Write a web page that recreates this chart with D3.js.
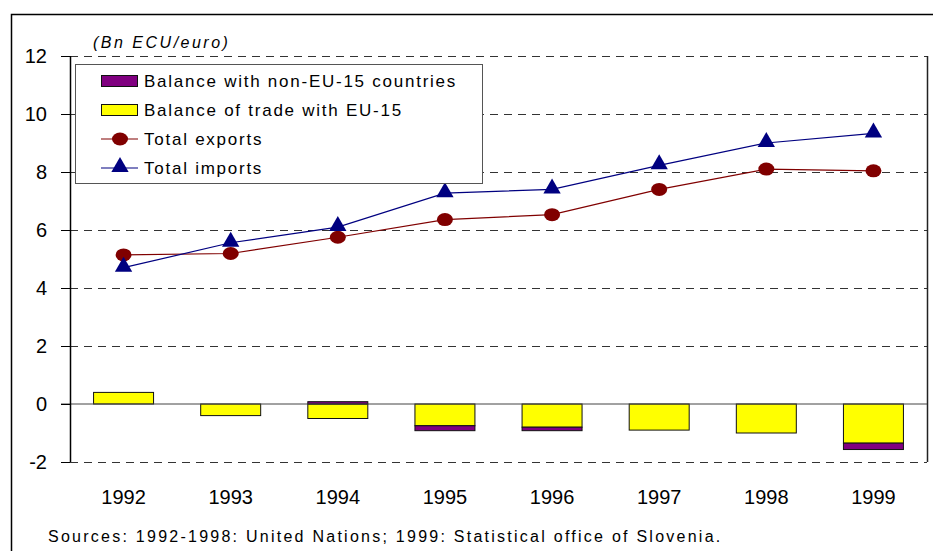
<!DOCTYPE html>
<html lang="en">
<head>
<meta charset="utf-8">
<title>Slovenia trade</title>
<script src="https://d3js.org/d3.v7.min.js"></script>
<style>
  body { margin: 0; background: #fff; font-family: "Liberation Sans", Arial, sans-serif; }
  .grid line { stroke: #333; stroke-dasharray: 8 6; }
  .ytick text { font-size: 20px; }
</style>
</head>
<body>
<div id="viz"></div>
<script>
var years = ["1992", "1993", "1994", "1995", "1996", "1997", "1998", "1999"];
var balanceEU = [0.4, -0.4, -0.5, -0.75, -0.8, -0.9, -1.0, -1.35];
var balanceNonEU = [0, 0, 0.08, -0.17, -0.12, 0, 0, -0.22];
var exportsTotal = [5.14, 5.19, 5.75, 6.36, 6.53, 7.4, 8.1, 8.04];
var importsTotal = [4.7, 5.56, 6.1, 7.27, 7.4, 8.23, 9.0, 9.33];
var yTicks = [-2, 0, 2, 4, 6, 8, 10, 12];

var W = 933, H = 551;
var pLeft = 70, pRight = 927, pTop = 56, pBottom = 462;

var svg = d3.select("#viz").append("svg").attr("width", W).attr("height", H);

// outer frame
svg.append("rect").attr("x", 11.5).attr("y", 14.5).attr("width", 940).attr("height", 560)
  .attr("fill", "none").attr("stroke", "#000").attr("stroke-width", 1.5);

var x = d3.scaleBand().domain(years).range([pLeft, pRight]).paddingInner(0.44).paddingOuter(0.22);
var xc = d3.scaleBand().domain(years).range([pLeft, pRight]);
var y = d3.scaleLinear().domain([-2, 12]).range([pBottom, pTop]);

// dashed grid
var grid = svg.append("g").attr("class", "grid");
grid.selectAll("line").data(yTicks.filter(function(d) { return d !== 0; }))
  .enter().append("line")
  .attr("x1", pLeft).attr("x2", pRight)
  .attr("y1", function(d) { return Math.round(y(d)) + 0.5; })
  .attr("y2", function(d) { return Math.round(y(d)) + 0.5; });

// right border
svg.append("line").attr("x1", pRight + 0.5).attr("x2", pRight + 0.5)
  .attr("y1", pTop).attr("y2", pBottom).attr("stroke", "#222").attr("stroke-width", 1.5);

// bars: EU part first from 0, non-EU stacked on the same sign side
var bars = svg.append("g");
years.forEach(function(yr, i) {
  var eu = balanceEU[i], ne = balanceNonEU[i];
  var posBase = 0, negBase = 0;
  function seg(v, fill) {
    if (v === 0) return;
    var y0, y1;
    if (v > 0) { y0 = posBase; y1 = posBase + v; posBase = y1; }
    else { y0 = negBase; y1 = negBase + v; negBase = y1; }
    bars.append("rect")
      .attr("x", x(yr)).attr("width", x.bandwidth())
      .attr("y", y(Math.max(y0, y1))).attr("height", Math.abs(y(y0) - y(y1)))
      .attr("fill", fill).attr("stroke", "#111").attr("stroke-width", 1);
  }
  seg(eu, "#ffff00");
  seg(ne, "#800080");
});

// zero line
svg.append("line").attr("x1", pLeft - 9).attr("x2", pRight)
  .attr("y1", y(0)).attr("y2", y(0)).attr("stroke", "#444").attr("stroke-width", 1);

// lines
var line = d3.line()
  .x(function(d, i) { return xc(years[i]) + xc.bandwidth() / 2; })
  .y(function(d) { return y(d); });

svg.append("path").datum(exportsTotal).attr("d", line)
  .attr("fill", "none").attr("stroke", "#800000").attr("stroke-width", 1.2);
svg.append("path").datum(importsTotal).attr("d", line)
  .attr("fill", "none").attr("stroke", "#000080").attr("stroke-width", 1.2);

svg.append("g").selectAll("ellipse").data(exportsTotal).enter().append("ellipse")
  .attr("cx", function(d, i) { return xc(years[i]) + xc.bandwidth() / 2; })
  .attr("cy", function(d) { return y(d); })
  .attr("rx", 8).attr("ry", 6.5).attr("fill", "#800000");

var tri = d3.symbol().type(d3.symbolTriangle).size(130);
svg.append("g").selectAll("path").data(importsTotal).enter().append("path")
  .attr("d", tri)
  .attr("transform", function(d, i) {
    return "translate(" + (xc(years[i]) + xc.bandwidth() / 2) + "," + (y(d) - 1) + ")";
  })
  .attr("fill", "#000080");

// y axis
svg.append("line").attr("x1", pLeft + 0.5).attr("x2", pLeft + 0.5)
  .attr("y1", pTop).attr("y2", pBottom).attr("stroke", "#000").attr("stroke-width", 1.5);
var yt = svg.append("g").attr("class", "ytick");
yt.selectAll("line").data(yTicks).enter().append("line")
  .attr("x1", pLeft - 9).attr("x2", pLeft)
  .attr("y1", function(d) { return Math.round(y(d)) + 0.5; })
  .attr("y2", function(d) { return Math.round(y(d)) + 0.5; })
  .attr("stroke", "#000");
yt.selectAll("text").data(yTicks).enter().append("text")
  .attr("x", 47).attr("y", function(d) { return y(d) + 7; })
  .attr("text-anchor", "end").text(function(d) { return d; });

// x labels
svg.append("g").selectAll("text").data(years).enter().append("text")
  .attr("x", function(d) { return xc(d) + xc.bandwidth() / 2; })
  .attr("y", 504).attr("text-anchor", "middle")
  .attr("font-size", 20).text(function(d) { return d; });

// unit label
svg.append("text").attr("x", 93).attr("y", 48).attr("font-size", 16)
  .attr("font-style", "italic").attr("letter-spacing", 2.5).text("(Bn ECU/euro)");

// legend
var lg = svg.append("g");
lg.append("rect").attr("x", 75.5).attr("y", 64.5).attr("width", 407).attr("height", 119)
  .attr("fill", "#fff").attr("stroke", "#555").attr("stroke-width", 1);
var legendItems = [
  { label: "Balance with non-EU-15 countries", type: "box", color: "#800080" },
  { label: "Balance of trade with EU-15", type: "box", color: "#ffff00" },
  { label: "Total exports", type: "circle", color: "#800000" },
  { label: "Total imports", type: "tri", color: "#000080" }
];
legendItems.forEach(function(it, i) {
  var cy = 81 + i * 29;
  if (it.type === "box") {
    lg.append("rect").attr("x", 101.5).attr("y", cy - 5.5).attr("width", 36).attr("height", 11)
      .attr("fill", it.color).attr("stroke", "#111");
  } else {
    lg.append("line").attr("x1", 101).attr("x2", 138).attr("y1", cy).attr("y2", cy)
      .attr("stroke", it.color).attr("stroke-width", 1.2);
    if (it.type === "circle") {
      lg.append("ellipse").attr("cx", 120).attr("cy", cy).attr("rx", 8).attr("ry", 6.5).attr("fill", it.color);
    } else {
      lg.append("path").attr("d", tri).attr("transform", "translate(120," + (cy - 1) + ")").attr("fill", it.color);
    }
  }
  lg.append("text").attr("x", 144).attr("y", cy + 6).attr("font-size", 17)
    .attr("letter-spacing", 1.75).text(it.label);
});

// source
svg.append("text").attr("x", 48).attr("y", 542).attr("font-size", 16)
  .attr("letter-spacing", 2.25)
  .text("Sources: 1992-1998: United Nations; 1999: Statistical office of Slovenia.");
</script>
</body>
</html>
